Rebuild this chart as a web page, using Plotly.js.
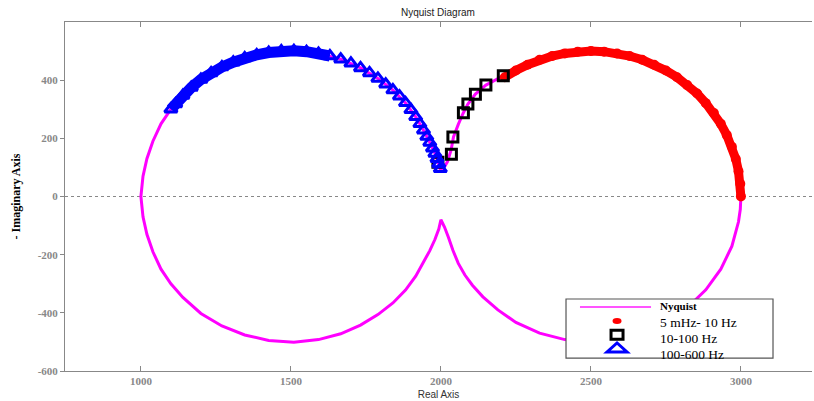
<!DOCTYPE html>
<html>
<head>
<meta charset="utf-8">
<script src="https://cdn.plot.ly/plotly-3.0.1.min.js"></script>
<style>html,body{margin:0;padding:0;background:#fff;}#chart{width:814px;height:401px;}</style>
</head>
<body>
<div id="chart"></div>
<script>
// Full Nyquist curve (upper branch 3000 -> 1000, lower branch 1000 -> 3000)
const nyqX = [3000,2998,2992,2970,2933,2883,2821,2750,2671,2587,2500,2413,2329,2250,2208,2150,2115,2090,2075,2058,2042,2034,2022,2010,2000,
              1993,1980,1963,1942,1916,1882,1840,1790,1732,1666,1592,1510,1426,1346,1270,1200,1140,1100,1067,1040,1020,1007,1000,
              1007,1020,1040,1067,1100,1140,1200,1270,1346,1426,1510,1592,1666,1732,1790,1840,1882,1916,1942,1963,1980,1993,2000,
              2012,2025,2040,2058,2080,2105,2140,2190,2250,2329,2413,2500,2587,2671,2750,2821,2883,2933,2970,2992,2998,3000];
const nyqY = [0,44,87,171,250,321,383,433,470,492,500,492,470,433,415,383,352,318,288,248,205,160,120,98,85,
              112,148,186,228,274,322,366,406,442,472,492,501,495,476,445,402,347,300,250,190,130,70,0,
              -70,-130,-190,-250,-300,-347,-402,-445,-476,-495,-501,-492,-472,-442,-406,-366,-322,-274,-228,-186,-148,-112,-80,
              -105,-140,-185,-230,-270,-305,-345,-390,-433,-470,-492,-500,-492,-470,-433,-383,-321,-250,-171,-87,-44,0];

// 5 mHz - 10 Hz (red dots)
const redX = [3000,2998,2992,2983,2970,2953,2933,2910,2883,2854,2821,2787,2750,2711,2671,2629,2587,2544,2500,2456,2413,2371,2329,2289,2250,2213];
const redY = [0,44,87,129,171,211,250,287,321,354,383,410,433,453,470,483,492,498,500,498,492,483,470,453,433,410];

// 10 - 100 Hz (black squares)
const sqX = [2208,2150,2115,2090,2075,2040,2035,1990];
const sqY = [415,383,352,318,288,205,145,118];

// 100 - 600 Hz (blue triangles)
const triX = [1998,1993,1987,1980,1972,1963,1953,1942,1930,1916,1900,1882,1862,1840,1816,1790,1762,1732,1700,1666,1630,1592,1552,1510,1468,1426,1386,1346,1308,1270,1234,1200,1168,1140,1116,1100];
const triY = [95,112,130,148,166,186,206,228,250,274,298,322,345,366,386,406,425,442,458,472,483,492,498,501,500,495,487,476,462,445,425,402,375,347,318,300];

const legendNames = ['Nyquist', '5 mHz- 10 Hz', '10-100 Hz', '100-600 Hz'];
const xTicks = [1000,1500,2000,2500,3000];
const yTicks = [-600,-400,-200,0,200,400];

// dense part of the 100-600 Hz band
const bandStart = triX.findIndex(v => v < 1640);

const traces = [
  {x: nyqX, y: nyqY, mode: 'lines', name: legendNames[0], line: {color: '#ff00ff', width: 3}},
  {x: redX, y: redY, mode: 'lines', hoverinfo: 'skip', line: {color: '#ff0000', width: 9}},
  {x: redX, y: redY, mode: 'markers', name: legendNames[1], marker: {symbol: 'circle', size: 10, color: '#ff0000'}},
  {x: triX.slice(bandStart), y: triY.slice(bandStart), mode: 'lines', hoverinfo: 'skip', line: {color: '#0000ff', width: 11}},
  {x: sqX, y: sqY, mode: 'markers', name: legendNames[2], marker: {symbol: 'square-open', size: 10, color: '#000000', line: {width: 3, color: '#000000'}}},
  {x: triX, y: triY, mode: 'markers', name: legendNames[3], marker: {symbol: 'triangle-up-open', size: 11, color: '#0000ff', line: {width: 3, color: '#0000ff'}}}
];

// legend box (drawn as decoration, paper coordinates)
const L = {x0: 0.6707, x1: 0.9478, y0: 0.037, y1: 0.2063, symX: 0.739, textX: 0.7952};
const shapes = [
  {type: 'line', xref: 'paper', x0: 0, x1: 1, yref: 'y', y0: 0, y1: 0, line: {color: '#888888', width: 1, dash: '3px,3px'}, layer: 'below'},
  {type: 'rect', xref: 'paper', yref: 'paper', x0: L.x0, x1: L.x1, y0: L.y0, y1: L.y1, fillcolor: '#ffffff', line: {color: '#555555', width: 1.2}, layer: 'above'},
  {type: 'line', xref: 'paper', yref: 'paper', x0: 0.6894, x1: 0.7845, y0: 0.1834, y1: 0.1834, line: {color: '#ff55ff', width: 2}, layer: 'above'},
  {type: 'circle', xref: 'paper', yref: 'paper', xsizemode: 'pixel', ysizemode: 'pixel', xanchor: L.symX, yanchor: 0.1433, x0: -4.5, x1: 4.5, y0: -3, y1: 3, fillcolor: '#ff0000', line: {width: 0}, layer: 'above'},
  {type: 'rect', xref: 'paper', yref: 'paper', xsizemode: 'pixel', ysizemode: 'pixel', xanchor: L.symX, yanchor: 0.104, x0: -6, x1: 6, y0: -4.5, y1: 4.5, fillcolor: '#ffffff', line: {color: '#000000', width: 3}, layer: 'above'},
  {type: 'path', xref: 'paper', yref: 'paper', xsizemode: 'pixel', ysizemode: 'pixel', xanchor: L.symX, yanchor: 0.066, path: 'M-10,-4L10,-4L0,5Z', fillcolor: '#ffffff', line: {color: '#0000ff', width: 3}, layer: 'above'}
];
const annFont = {family: 'Liberation Serif', size: 13.5, color: '#000000'};
const annotations = [
  {xref: 'paper', yref: 'paper', x: L.textX, y: 0.1862, xanchor: 'left', yanchor: 'middle', showarrow: false, borderpad: 0, text: '<b>' + legendNames[0] + '</b>', font: {family: 'Liberation Serif', size: 11, color: '#000000'}},
  {xref: 'paper', yref: 'paper', x: L.textX, y: 0.140, xanchor: 'left', yanchor: 'middle', showarrow: false, borderpad: 0, text: legendNames[1], font: annFont},
  {xref: 'paper', yref: 'paper', x: L.textX, y: 0.093, xanchor: 'left', yanchor: 'middle', showarrow: false, borderpad: 0, text: legendNames[2], font: annFont},
  {xref: 'paper', yref: 'paper', x: L.textX, y: 0.047, xanchor: 'left', yanchor: 'middle', showarrow: false, borderpad: 0, text: legendNames[3], font: annFont}
];

const tickFont = {family: 'Liberation Serif', size: 11, color: '#888888', weight: 'bold'};

const layout = {
  width: 814, height: 401,
  margin: {l: 65, r: 2, t: 22, b: 30},
  paper_bgcolor: '#ffffff', plot_bgcolor: '#ffffff',
  showlegend: false,
  title: {text: 'Nyquist Diagram', font: {family: 'Liberation Sans', size: 10, color: '#222222'}, x: 0.538, xanchor: 'center', y: 0.97, yanchor: 'middle'},
  xaxis: {
    range: [747, 3237], tickvals: xTicks, ticktext: xTicks.map(String),
    showgrid: false, zeroline: false, showline: true, linecolor: '#888888', linewidth: 1,
    mirror: 'ticks', ticks: 'inside', ticklen: 5, tickcolor: '#888888',
    tickfont: tickFont,
    title: {text: 'Real Axis', font: {family: 'Liberation Sans', size: 10, color: '#333333'}, standoff: 4}
  },
  yaxis: {
    range: [-600, 600], tickvals: yTicks, ticktext: yTicks.map(String),
    showgrid: false, zeroline: false, showline: true, linecolor: '#888888', linewidth: 1,
    ticks: 'outside', ticklen: 4, tickcolor: '#888888',
    tickfont: tickFont,
    title: {text: '- Imaginary Axis', font: {family: 'Liberation Serif', size: 12, color: '#000000', weight: 'bold'}, standoff: 14}
  },
  shapes: shapes,
  annotations: annotations
};

Plotly.newPlot('chart', traces, layout, {staticPlot: true, displayModeBar: false});
</script>
</body>
</html>
